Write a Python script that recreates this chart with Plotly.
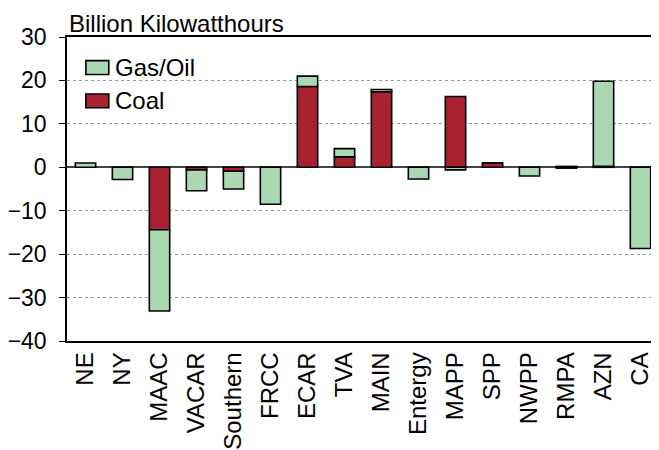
import plotly.graph_objects as go

regions = ["NE", "NY", "MAAC", "VACAR", "Southern", "FRCC", "ECAR", "TVA", "MAIN",
           "Entergy", "MAPP", "SPP", "NWPP", "RMPA", "AZN", "CA"]
coal = [0.0, 0.0, -14.4, -0.6, -0.9, 0.0, 18.6, 2.4, 17.4, 0.0, 16.3, 1.0, 0.0, 0.2, 0.2, 0.0]
gas_oil = [1.0, -2.8, -18.7, -4.8, -4.1, -8.5, 2.4, 1.9, 0.5, -2.7, -0.6, 0.0, -2.0, -0.2, 19.6, -18.7]
y_ticks = [-40, -30, -20, -10, 0, 10, 20, 30]
legend_labels = ["Gas/Oil", "Coal"]

FONT = "Liberation Sans, Arial, sans-serif"
GREEN = "#A9D8B2"
RED = "#A8232F"
legend_colors = [GREEN, RED]

fig = go.Figure()
fig.add_trace(go.Bar(x=regions, y=coal, name="Coal", showlegend=False,
                     marker=dict(color=RED, line=dict(color="black", width=1.6))))
fig.add_trace(go.Bar(x=regions, y=gas_oil, name="Gas/Oil", showlegend=False,
                     marker=dict(color=GREEN, line=dict(color="black", width=1.6))))

# manual legend (larger swatches like the original)
shapes = []
annotations = [dict(text="Billion Kilowatthours", x=0.0017, xref="paper", y=1, yref="paper",
                    xanchor="left", yanchor="bottom", yshift=-1, borderpad=0, showarrow=False,
                    font=dict(size=24, family=FONT))]
legend_y = [0.8994, 0.7899]
for label, color, yc in zip(legend_labels, legend_colors, legend_y):
    shapes.append(dict(type="rect", xref="paper", yref="paper",
                       x0=0.0319, x1=0.0706, y0=yc - 0.0228, y1=yc + 0.0228,
                       fillcolor=color, line=dict(color="black", width=1.6)))
    annotations.append(dict(text=label, x=0.0773, xref="paper", y=yc, yref="paper",
                            xanchor="left", yanchor="middle", showarrow=False,
                            font=dict(size=24, family=FONT)))

fig.update_layout(
    width=651, height=442,
    margin=dict(l=56, r=0, t=29, b=105),
    barmode="relative",
    bargap=0.45,
    plot_bgcolor="white", paper_bgcolor="white",
    font=dict(family=FONT, color="black", size=23),
    showlegend=False,
    shapes=shapes,
    annotations=annotations,
)
fig.update_xaxes(showline=True, linecolor="black", linewidth=1.5, mirror=True,
                 tickangle=-90, tickfont=dict(size=24), ticks="", showgrid=False)
fig.update_yaxes(range=[-40, 30], tickvals=y_ticks, showline=True, linecolor="black", linewidth=1.5,
                 ticks="outside", ticklen=6, tickcolor="black", ticklabelstandoff=8,
                 tickfont=dict(size=23),
                 showgrid=True, gridcolor="#999999", griddash="dot", gridwidth=1,
                 zeroline=True, zerolinecolor="#444444", zerolinewidth=1.5)

fig.write_html("out.html")
